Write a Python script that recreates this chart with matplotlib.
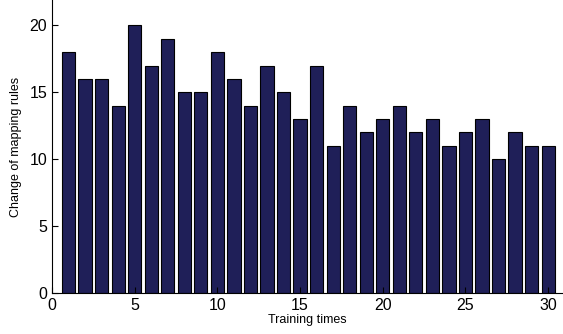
import matplotlib
matplotlib.use("Agg")
import matplotlib.pyplot as plt

plt.rcParams['font.family'] = ['Liberation Sans', 'DejaVu Sans']

times = list(range(1, 31))
changes = [18, 16, 16, 14, 20, 17, 19, 15, 15, 18,
           16, 14, 17, 15, 13, 17, 11, 14, 12, 13,
           14, 12, 13, 11, 12, 13, 10, 12, 11, 11]
xticks = [0, 5, 10, 15, 20, 25, 30]
yticks = [0, 5, 10, 15, 20]

fig = plt.figure(figsize=(5.63, 3.34), dpi=100)
ax = fig.add_axes([0.0924, 0.123, 0.9076, 0.877])
ax.bar(times, changes, width=0.8, color='#1f1f58', edgecolor='black', linewidth=0.8)
ax.set_xlim(0, 30.9)
ax.set_ylim(0, 21.9)
ax.set_xticks(xticks)
ax.set_yticks(yticks)
ax.tick_params(direction='in', labelsize=11.5, length=4)
ax.spines['top'].set_visible(False)
ax.spines['right'].set_visible(False)
ax.set_xlabel('Training times', fontsize=9, labelpad=1)
ax.set_ylabel('Change of mapping rules', fontsize=9, labelpad=5)

fig.savefig('out.png', dpi=100)
